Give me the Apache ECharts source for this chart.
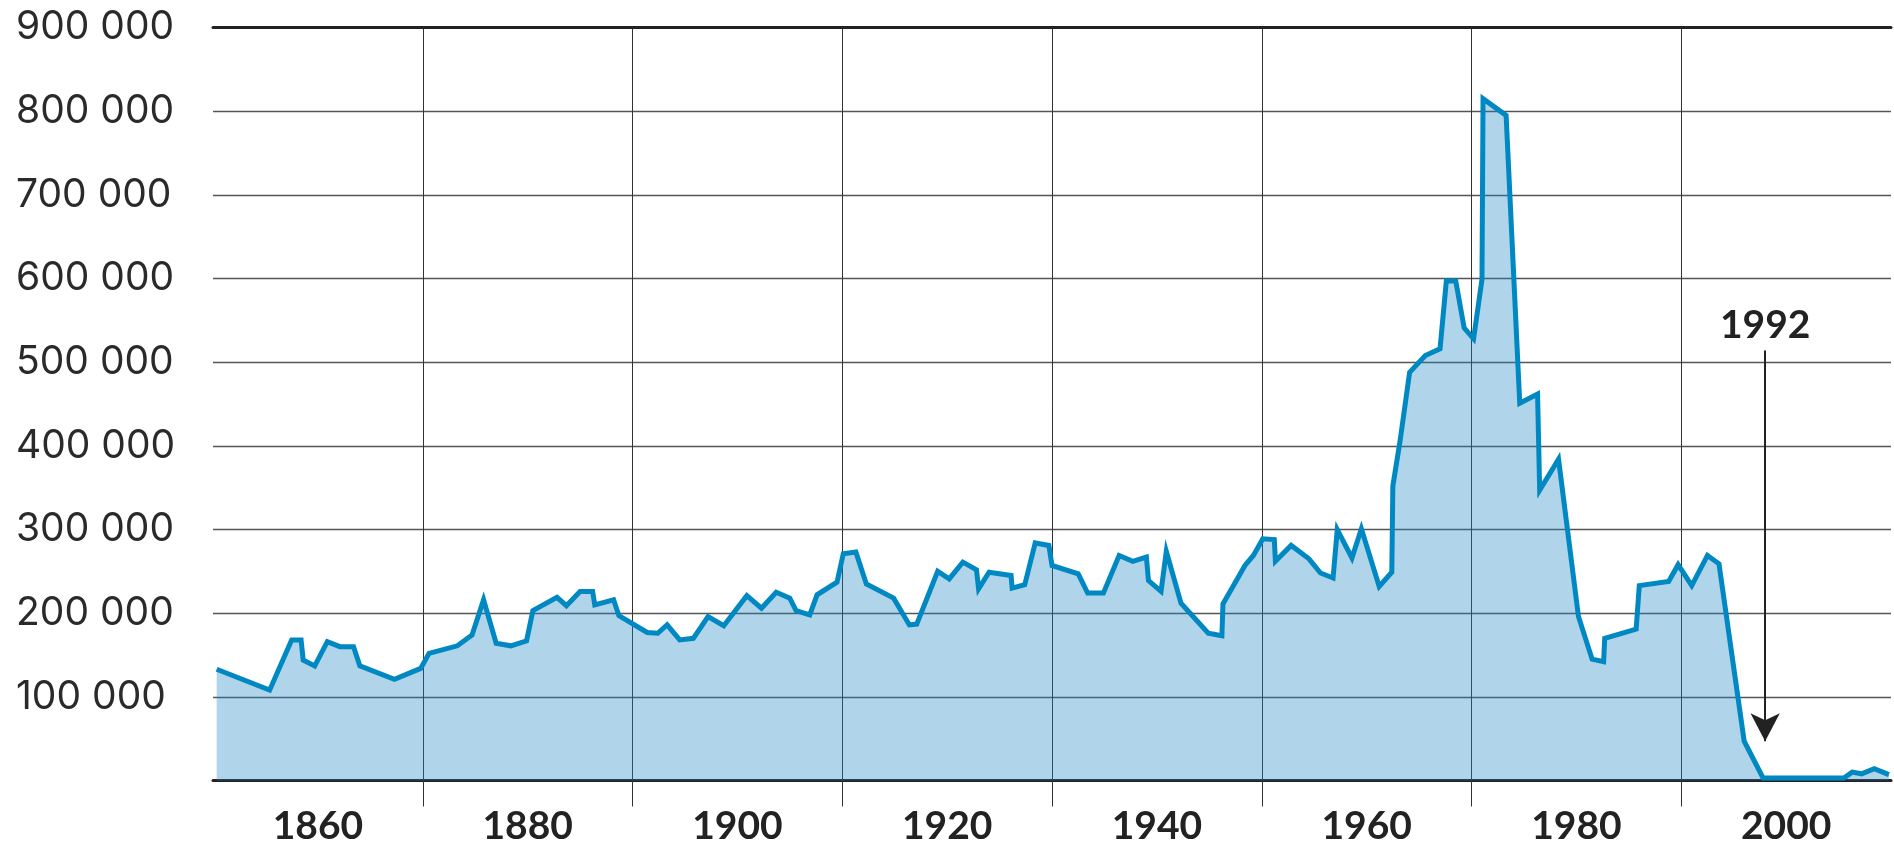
<!DOCTYPE html>
<html>
<head>
<meta charset="utf-8">
<script src="https://cdn.jsdelivr.net/npm/echarts@6/dist/echarts.min.js"></script>
<style>
html,body{margin:0;padding:0;background:#fff;}
#chart{width:1894px;height:846px;}
</style>
</head>
<body>
<div id="chart"></div>
<script>
// Year positions (as plotted) of each vertex of the line
const years = [
  1850.35, 1855.4, 1857.5, 1858.4, 1858.6, 1859.7, 1860.9, 1862.1, 1863.4, 1864.0,
  1867.3, 1869.8, 1870.6, 1873.3, 1874.7, 1875.8, 1877.0, 1878.4, 1879.9, 1880.5,
  1882.8, 1883.7, 1885.0, 1886.2, 1886.4, 1888.2, 1888.7, 1891.4, 1892.4, 1893.3,
  1894.5, 1895.8, 1897.2, 1898.7, 1900.9, 1902.3, 1903.7, 1905.0, 1905.6, 1906.9,
  1907.6, 1909.5, 1910.1, 1911.3, 1912.3, 1914.9, 1916.4, 1917.1, 1919.1, 1920.2,
  1921.5, 1922.8, 1923.0, 1924.0, 1926.1, 1926.2, 1927.4, 1928.4, 1929.7, 1930.0,
  1932.5, 1933.4, 1934.9, 1936.4, 1937.7, 1939.0, 1939.2, 1940.4, 1940.9, 1942.3,
  1944.9, 1946.2, 1946.3, 1948.4, 1949.2, 1950.1, 1951.2, 1951.3, 1952.8, 1954.5,
  1955.6, 1956.8, 1957.2, 1958.6, 1959.5, 1961.2, 1962.4, 1962.5, 1963.2, 1964.1,
  1965.6, 1967.0, 1967.6, 1968.5, 1969.3, 1970.2, 1971.0, 1971.1, 1973.3, 1974.6,
  1976.3, 1976.5, 1978.3, 1980.2, 1981.5, 1982.6, 1982.7, 1985.7, 1986.0, 1988.8,
  1989.7, 1991.0, 1992.5, 1993.6, 1996.0, 1997.8, 2005.5, 2006.3, 2007.2, 2008.4,
  2009.8
];
// Catch (tonnes) at each vertex
const catchTonnes = [
  133000, 108000, 168000, 168000, 144000, 137000, 166000, 160000, 160000, 137000,
  121000, 134000, 152000, 161000, 174000, 216000, 164000, 161000, 167000, 203000,
  219000, 209000, 226000, 226000, 210000, 216000, 197000, 177000, 176000, 186000,
  168000, 170000, 196000, 185000, 221000, 206000, 225000, 218000, 203000, 198000,
  222000, 237000, 271000, 273000, 235000, 218000, 186000, 187000, 250000, 241000,
  261000, 252000, 229000, 249000, 245000, 230000, 234000, 284000, 281000, 257000,
  247000, 224000, 224000, 269000, 262000, 267000, 239000, 226000, 274000, 212000,
  176000, 173000, 211000, 257000, 269000, 289000, 288000, 262000, 281000, 265000,
  248000, 242000, 300000, 266000, 301000, 232000, 249000, 352000, 407000, 488000,
  508000, 516000, 597000, 597000, 541000, 528000, 599000, 815000, 795000, 451000,
  462000, 347000, 384000, 196000, 145000, 142000, 170000, 181000, 233000, 238000,
  258000, 233000, 269000, 259000, 47000, 3000, 3000, 10000, 8000, 14000,
  7000
];
// Axis ticks / labels
const xLabelYears = [1860, 1880, 1900, 1920, 1940, 1960, 1980, 2000];
const xGridYears = [1870, 1890, 1910, 1930, 1950, 1970, 1990];
const yTicks = [100000, 200000, 300000, 400000, 500000, 600000, 700000, 800000, 900000];
// Annotation
const annotationText = '1992';
const annotationYear = 1998;
const annotationFrom = 514000;
const annotationTo = 47000;

const seriesData = years.map((y, i) => [y, catchTonnes[i]]);
const fmt = v => String(v).replace(/\B(?=(\d{3})+(?!\d))/g, ' ');

const chart = echarts.init(document.getElementById('chart'), null, {renderer: 'canvas'});
chart.setOption({
  animation: false,
  backgroundColor: '#ffffff',
  grid: {left: 213, right: 3, top: 27.6, bottom: 65.1},
  xAxis: [
    {
      type: 'value', min: 1850, max: 2010, interval: 20,
      axisLine: {show: true, onZero: false, lineStyle: {color: '#222', width: 3}},
      axisTick: {show: true, length: 26, inside: false, customValues: xGridYears, lineStyle: {color: '#333', width: 1}},
      axisLabel: {show: false},
      splitLine: {show: true, lineStyle: {color: '#333', width: 1}}
    },
    {
      type: 'value', min: 1850, max: 2010, interval: 10, position: 'bottom',
      axisLine: {show: false}, axisTick: {show: false}, splitLine: {show: false},
      axisLabel: {
        show: true, margin: 46, verticalAlign: 'middle',
        fontFamily: 'Lato', fontWeight: 'bold', fontSize: 39, color: '#222',
        showMinLabel: true, showMaxLabel: true,
        formatter: v => xLabelYears.indexOf(Math.round(v)) >= 0 ? String(Math.round(v)) : ''
      }
    },
    {
      type: 'value', min: 1850, max: 2010, position: 'top',
      axisLine: {show: true, onZero: false, lineStyle: {color: '#222', width: 3}},
      axisTick: {show: false}, axisLabel: {show: false}, splitLine: {show: false}
    }
  ],
  yAxis: {
    type: 'value', min: 0, max: 900000, interval: 100000,
    axisLine: {show: false}, axisTick: {show: false},
    axisLabel: {
      show: true, align: 'left', margin: 197,
      fontFamily: 'Inter', fontSize: 39, color: '#2a2a2a',
      formatter: v => yTicks.indexOf(v) >= 0 ? fmt(v) : ''
    },
    splitLine: {show: true, lineStyle: {color: '#555', width: 1.3}}
  },
  series: [{
    type: 'line',
    xAxisIndex: 0,
    data: seriesData,
    showSymbol: false,
    symbol: 'none',
    lineStyle: {color: '#0088c2', width: 5, join: 'miter', miterLimit: 6},
    areaStyle: {color: 'rgba(29,132,192,0.35)', opacity: 1, origin: 'start'},
    markLine: {
      silent: true,
      symbol: ['none', 'arrow'],
      symbolSize: [22, 28],
      lineStyle: {color: '#222', width: 2, type: 'solid'},
      label: {
        show: true, position: 'start', distance: 6,
        formatter: annotationText,
        fontFamily: 'Lato', fontWeight: 'bold', fontSize: 39, color: '#222'
      },
      data: [[{coord: [annotationYear, annotationFrom]}, {coord: [annotationYear, annotationTo]}]]
    },
    z: 3
  }]
});
</script>
</body>
</html>
